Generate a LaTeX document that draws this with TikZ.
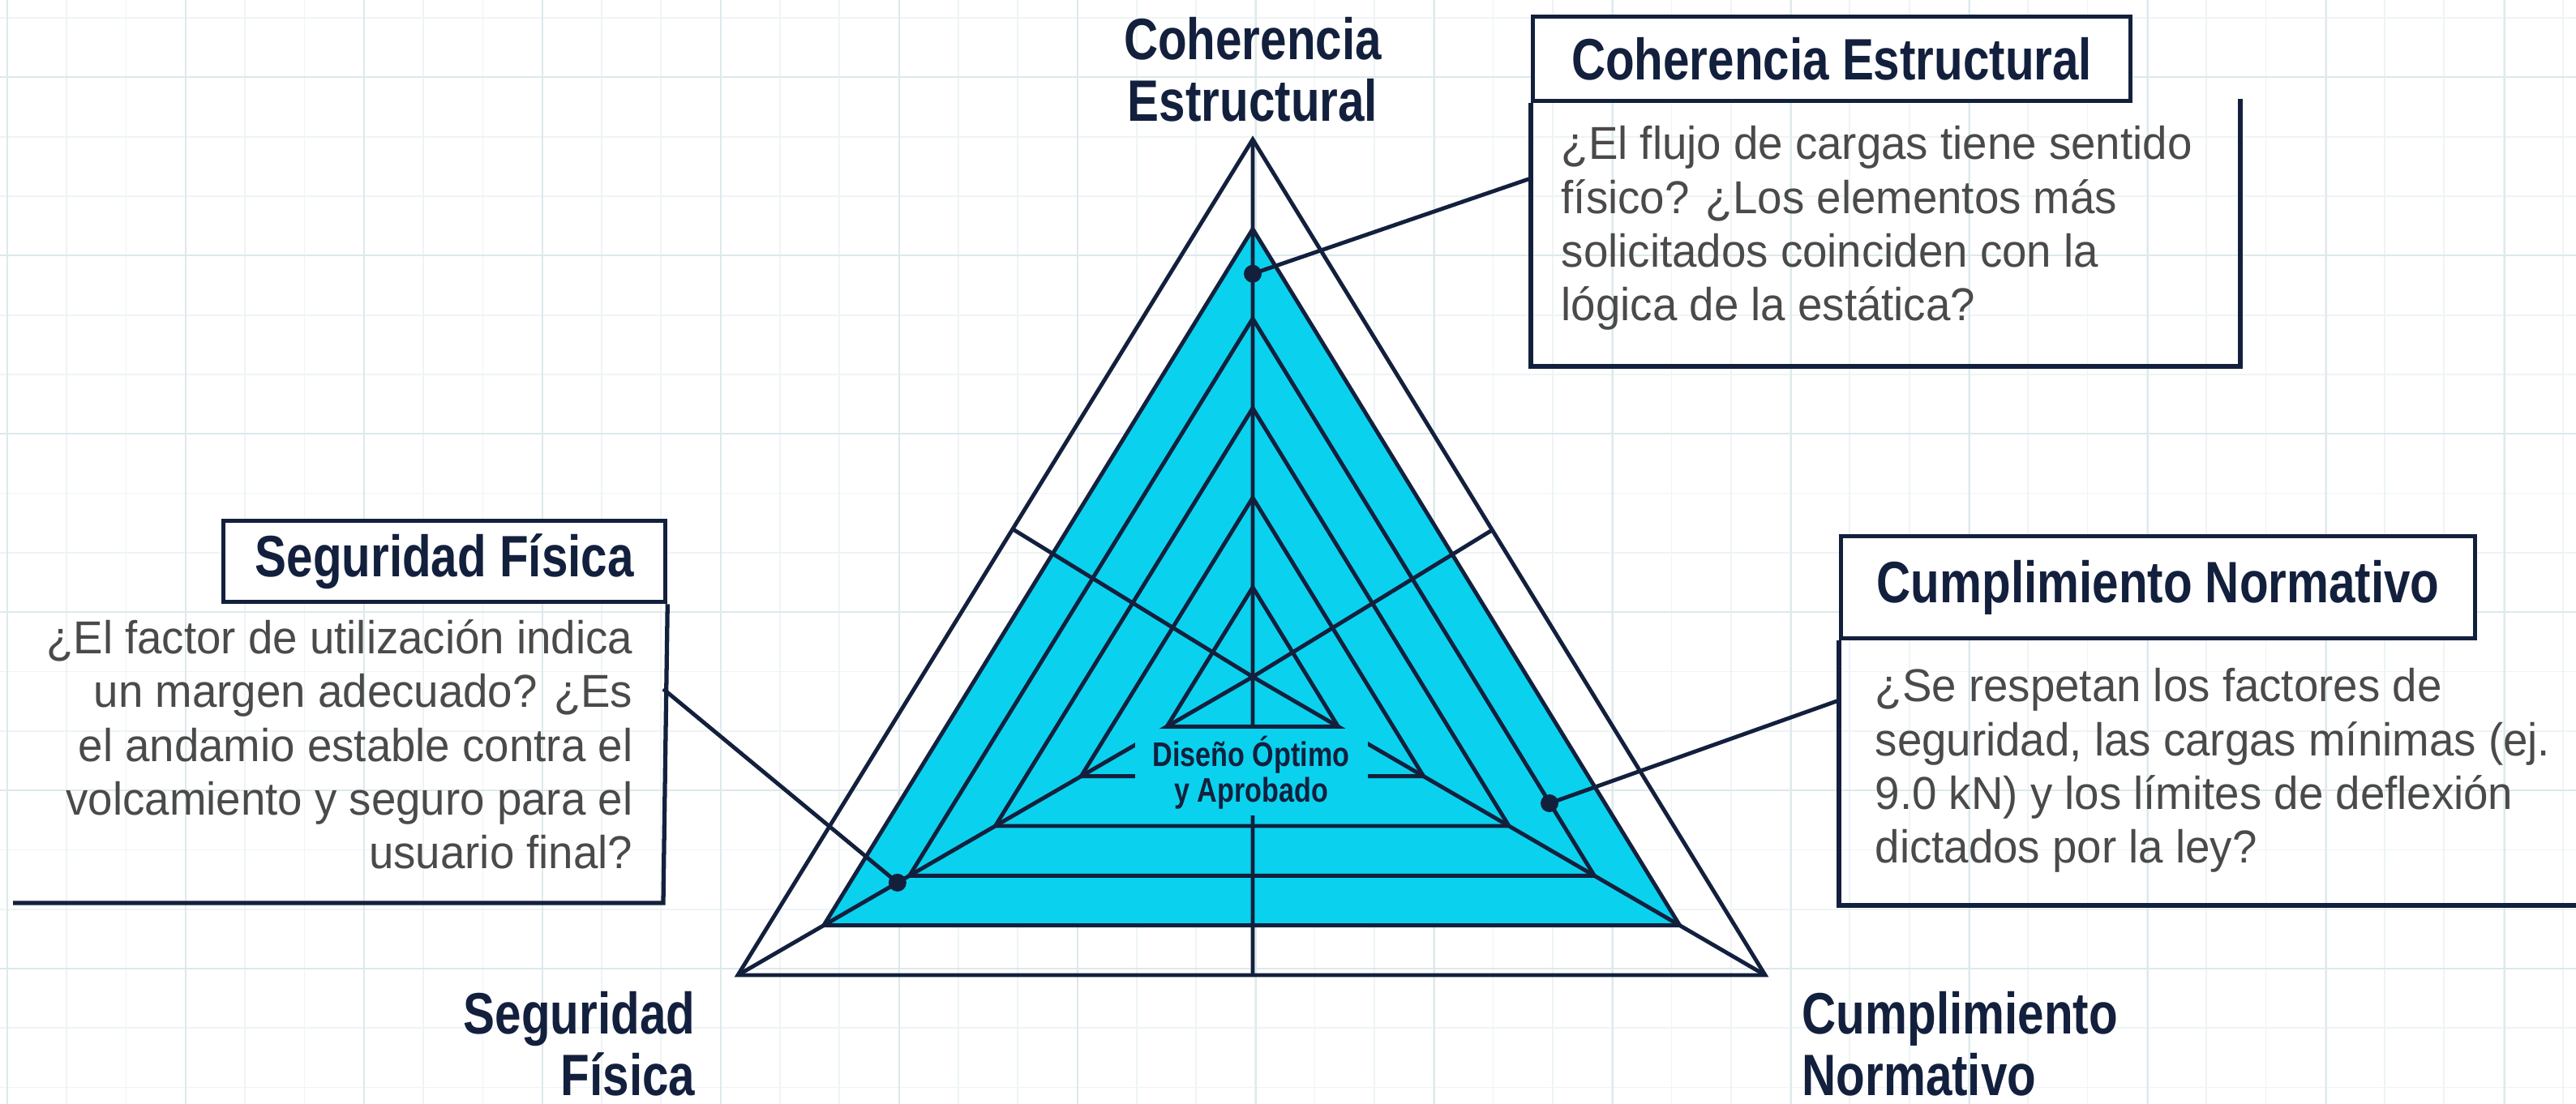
\documentclass[tikz,border=0pt]{standalone}
\usepackage{fontspec}
\usepackage{xcolor}
\usetikzlibrary{calc}
\newfontfamily\headfont[FakeStretch=0.81]{Liberation Sans Bold}
\newfontfamily\bodyfont[FakeStretch=0.96]{Liberation Sans}
\definecolor{navy}{HTML}{13203D}
\definecolor{fillcyan}{HTML}{0AD2EE}
\definecolor{txtgray}{HTML}{4A4A4A}
\definecolor{gridmin}{HTML}{EEF4F5}
\definecolor{gridmaj}{HTML}{DDE9EC}

\begin{document}
\begin{tikzpicture}[
  line/.style={draw=navy, line width=1.4pt},
  frame/.style={draw=navy, line width=1.5pt},
  axislbl/.style={font=\headfont\fontsize{20.5}{21.9}\selectfont, text=navy, inner sep=0pt},
  ttlbox/.style={frame, fill=white, font=\headfont\fontsize{20.5}{21.9}\selectfont, text=navy, inner sep=0pt, anchor=north west},
  body/.style={font=\bodyfont\fontsize{16.2}{18.9}\selectfont, text=txtgray, inner sep=0pt},
  dot/.style={circle, fill=navy, inner sep=0pt, minimum size=0.22cm}
]
\useasboundingbox (0,0) rectangle (31.77,13.62);
\fill[white] (0,0) rectangle (31.77,13.62);
% Grid
\draw[gridmin, line width=0.5pt, shift={(0.09,1.67)}, step=0.733] (-0.09,-1.67) grid (31.68,11.95);
\draw[gridmaj, line width=0.7pt, shift={(0.09,1.67)}, step=2.2] (-0.09,-1.67) grid (31.68,11.95);

% Radar
\coordinate (C) at (15.45,5.27);
\coordinate (T) at (15.45,11.90);
\coordinate (L) at (9.10,1.59);
\coordinate (R) at (21.77,1.59);
\fill[fillcyan] ($(C)!5/6!(T)$) -- ($(C)!5/6!(L)$) -- ($(C)!5/6!(R)$) -- cycle;
\draw[line] (T) -- (L) -- (R) -- cycle;
\foreach \k in {1,...,5}
  \draw[line] ($(C)!\k/6!(T)$) -- ($(C)!\k/6!(L)$) -- ($(C)!\k/6!(R)$) -- cycle;
\draw[line] (C) -- (T) (C) -- (L) (C) -- (R);
\draw[line] (C) -- ($(L)!(C)!(T)$) (C) -- ($(T)!(C)!(R)$) (C) -- ($(L)!(C)!(R)$);
\node[fill=fillcyan, inner sep=0pt, minimum width=2.87cm, minimum height=1.07cm,
  font=\headfont\fontsize{12}{12.4}\selectfont, text=navy, align=center] (ctr) at (15.43,4.09) {Diseño Óptimo\\y Aprobado};

% Axis labels
\node[axislbl, align=center, anchor=base] (lce) at (15.45,12.12) {Coherencia\\Estructural};
\node[axislbl, align=right, anchor=base east] (lsf) at (8.58,0.10) {Seguridad\\Física};
\node[axislbl, align=left, anchor=base west] (lcn) at (22.22,0.10) {Cumplimiento\\Normativo};

% Points
\node[dot] (dce) at ($(C)!0.75!(T)$) {};
\node[dot] (dsf) at ($(C)!0.69!(L)$) {};
\node[dot] (dcn) at (19.11,3.71) {};

% Boxes
\node[ttlbox, minimum width=7.37cm, minimum height=1.04cm] (hce) at (18.88,13.44) {Coherencia Estructural};
\draw[frame] (hce.south west) -- (18.88,9.10) -- (27.63,9.10) -- (27.63,12.40);
\node[body, align=left, anchor=base west] (bce) at (19.25,9.66) {¿El flujo de cargas tiene sentido\\físico? ¿Los elementos más\\solicitados coinciden con la\\lógica de la estática?};

\node[ttlbox, minimum width=5.45cm, minimum height=1.0cm] (hsf) at (2.73,7.22) {Seguridad Física};
\draw[frame] (hsf.south east) -- (8.18,2.48) -- (0.16,2.48);
\node[body, align=right, anchor=base east] (bsf) at (7.81,2.90) {¿El factor de utilización indica\\un margen adecuado? ¿Es\\el andamio estable contra el\\volcamiento y seguro para el\\usuario final?};

\node[ttlbox, minimum width=7.82cm, minimum height=1.26cm] (hcn) at (22.68,7.03) {Cumplimiento Normativo};
\draw[frame] (hcn.south west) -- (22.68,2.45) -- (31.77,2.45);
\node[body, align=left, anchor=base west] (bcn) at (23.12,2.97) {¿Se respetan los factores de\\seguridad, las cargas mínimas (ej.\\9.0 kN) y los límites de deflexión\\dictados por la ley?};

% Leaders
\coordinate (ece) at (18.88,11.42);
\coordinate (esf) at (8.18,5.12);
\coordinate (ecn) at (22.68,4.98);
\draw[line] (dce.center) -- (ece);
\draw[line] (dsf.center) -- (esf);
\draw[line] (dcn.center) -- (ecn);
\end{tikzpicture}
\end{document}
